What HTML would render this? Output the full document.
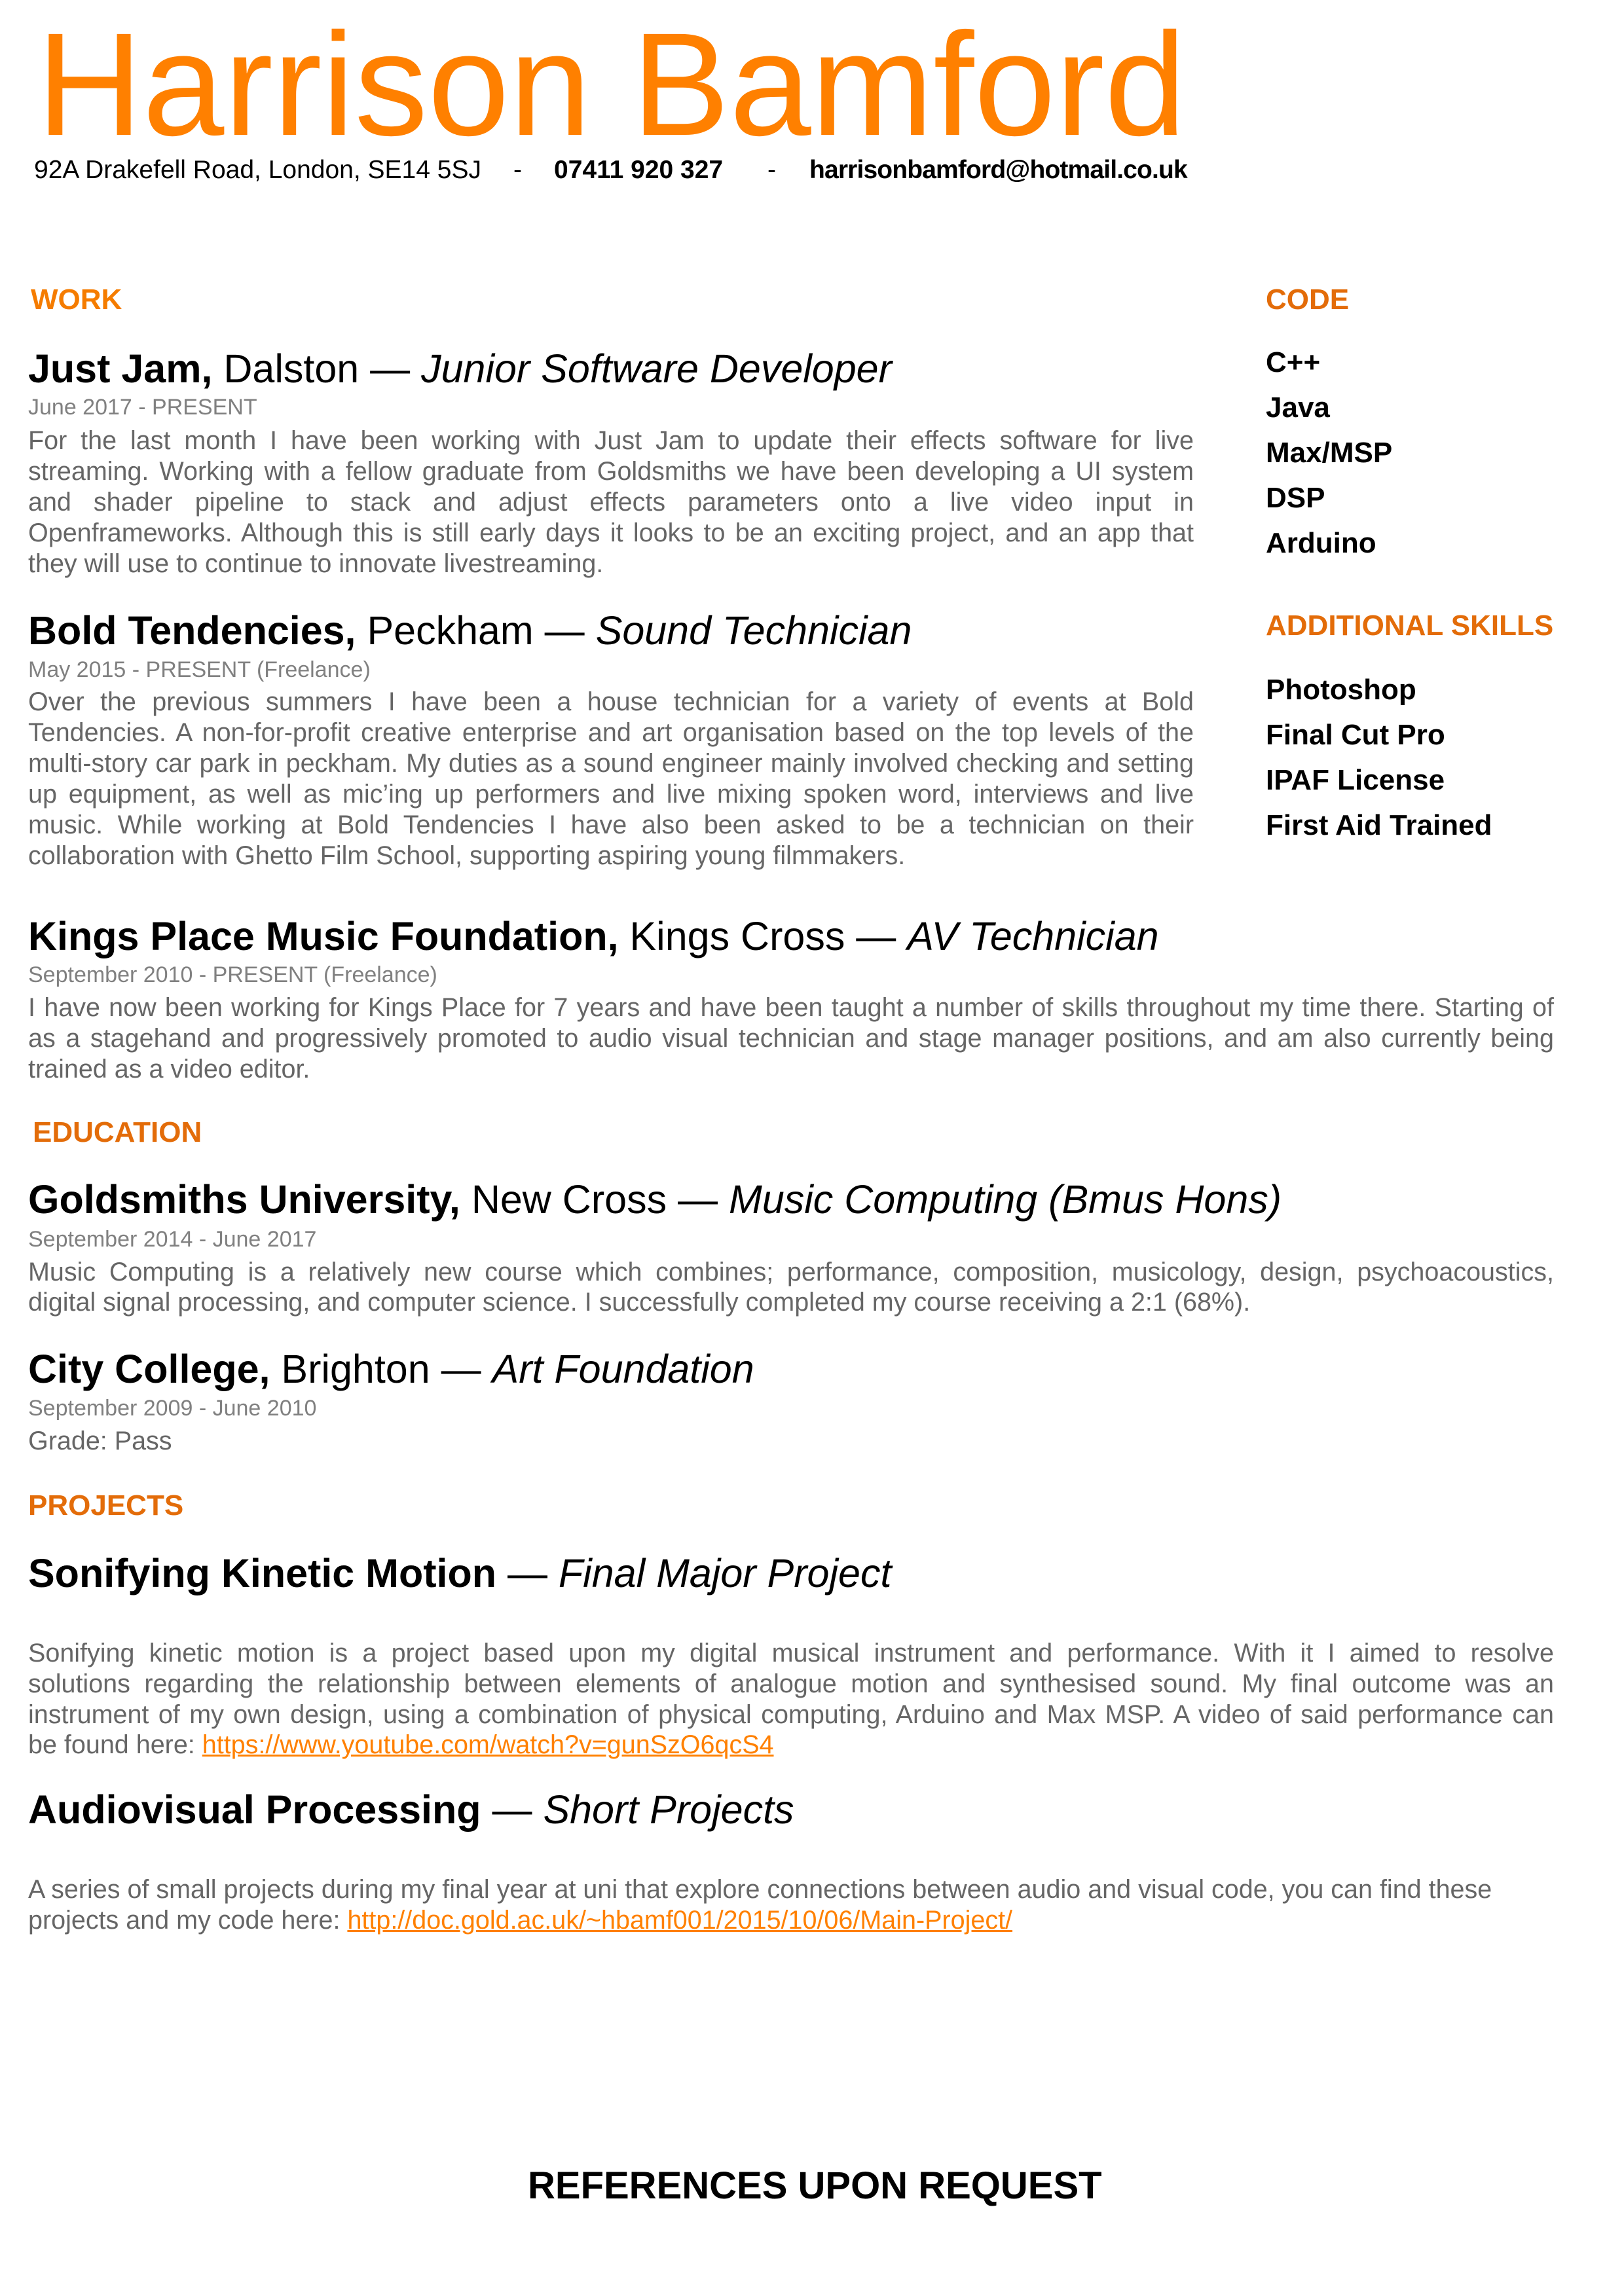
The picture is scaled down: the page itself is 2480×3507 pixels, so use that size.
<!DOCTYPE html>
<html><head><meta charset="utf-8"><style>
html,body{margin:0;padding:0;background:#fff}
body{width:2480px;height:3507px;position:relative;overflow:hidden;font-family:"Liberation Sans",Arial,sans-serif}
.l{position:absolute;line-height:1;white-space:nowrap}
.h{font-size:44px;font-weight:bold;color:#e36c09}
.t{font-size:61px;color:#000;left:43px}
.t b{font-weight:bold}
.d{font-size:34px;color:#808080;left:43px}
.p{font-size:39.5px;color:#666;left:43px}
.j{text-align:justify;text-align-last:justify}
.w1{width:1780px}.w2{width:2330px}
.s{font-size:44px;font-weight:bold;color:#000;left:1933px}
a{color:#ff8000;text-decoration:underline}
</style></head><body>
<div class="l" style="top:17px;left:56px;font-size:224px;color:#ff8000">Harrison Bamford</div>
<div class="l" style="top:240px;left:52px;font-size:39px">92A Drakefell Road, London, SE14 5SJ</div>
<div class="l" style="top:240px;left:784px;font-size:39px">-</div>
<div class="l" style="top:240px;left:846px;font-size:39px;font-weight:bold">07411 920 327</div>
<div class="l" style="top:240px;left:1172px;font-size:39px">-</div>
<div class="l" style="top:240px;left:1236px;font-size:39px;font-weight:bold;letter-spacing:-0.85px">harrisonbamford@hotmail.co.uk</div>

<div class="l h" style="top:436px;left:47px;color:#f57c00">WORK</div>
<div class="l h" style="top:436px;left:1933px">CODE</div>

<div class="l t" style="top:533px"><b>Just Jam,</b> Dalston — <i>Junior Software Developer</i></div>
<div class="l d" style="top:605px">June 2017 - PRESENT</div>
<div class="l p j w1" style="top:654px">For the last month I have been working with Just Jam to update their effects software for live</div>
<div class="l p j w1" style="top:701px">streaming. Working with a fellow graduate from Goldsmiths we have been developing a UI system</div>
<div class="l p j w1" style="top:748px">and shader pipeline to stack and adjust effects parameters onto a live video input in</div>
<div class="l p j w1" style="top:795px">Openframeworks. Although this is still early days it looks to be an exciting project, and an app that</div>
<div class="l p" style="top:842px">they will use to continue to innovate livestreaming.</div>

<div class="l t" style="top:933px"><b>Bold Tendencies,</b> Peckham — <i>Sound Technician</i></div>
<div class="l d" style="top:1006px">May 2015 - PRESENT (Freelance)</div>
<div class="l p j w1" style="top:1053px">Over the previous summers I have been a house technician for a variety of events at Bold</div>
<div class="l p j w1" style="top:1100px">Tendencies. A non-for-profit creative enterprise and art organisation based on the top levels of the</div>
<div class="l p j w1" style="top:1147px">multi-story car park in peckham. My duties as a sound engineer mainly involved checking and setting</div>
<div class="l p j w1" style="top:1194px">up equipment, as well as mic’ing up performers and live mixing  spoken word, interviews and live</div>
<div class="l p j w1" style="top:1241px">music. While working at Bold Tendencies I have also been asked to be a technician on their</div>
<div class="l p" style="top:1288px">collaboration with Ghetto Film School, supporting aspiring young filmmakers.</div>

<div class="l t" style="top:1400px"><b>Kings Place Music Foundation,</b> Kings Cross — <i>AV Technician</i></div>
<div class="l d" style="top:1472px">September 2010 - PRESENT (Freelance)</div>
<div class="l p j w2" style="top:1520px">I have now been working for Kings Place for 7 years and have been taught a number of skills throughout my time there. Starting of</div>
<div class="l p j w2" style="top:1567px">as a stagehand and progressively promoted to audio visual technician and stage manager positions, and am also currently being</div>
<div class="l p" style="top:1614px">trained as a video editor.</div>

<div class="l h" style="top:1708px;left:50px">EDUCATION</div>
<div class="l t" style="top:1802px"><b>Goldsmiths University,</b> New Cross — <i>Music Computing (Bmus Hons)</i></div>
<div class="l d" style="top:1876px">September 2014 - June 2017</div>
<div class="l p j w2" style="top:1924px">Music Computing is a relatively new course which combines; performance, composition, musicology, design, psychoacoustics,</div>
<div class="l p" style="top:1970px">digital signal processing, and computer science. I successfully completed my course receiving a 2:1 (68%).</div>

<div class="l t" style="top:2061px"><b>City College,</b> Brighton — <i>Art Foundation</i></div>
<div class="l d" style="top:2134px">September 2009 - June 2010</div>
<div class="l p" style="top:2182px">Grade: Pass</div>

<div class="l h" style="top:2278px;left:43px">PROJECTS</div>
<div class="l t" style="top:2373px"><b>Sonifying Kinetic Motion</b> — <i>Final Major Project</i></div>
<div class="l p j w2" style="top:2506px">Sonifying kinetic motion is a project based upon my digital musical instrument and performance. With it I aimed to resolve</div>
<div class="l p j w2" style="top:2553px">solutions regarding the relationship between elements of analogue motion and synthesised sound. My final outcome was an</div>
<div class="l p j w2" style="top:2600px">instrument of my own design, using a combination of physical computing, Arduino and Max MSP. A video of said performance can</div>
<div class="l p" style="top:2646px">be found here: <a>https://www.youtube.com/watch?v=gunSzO6qcS4</a></div>

<div class="l t" style="top:2734px"><b>Audiovisual Processing</b> — <i>Short Projects</i></div>
<div class="l p" style="top:2867px">A series of small projects during my final year at uni that explore connections between audio and visual code, you can find these</div>
<div class="l p" style="top:2914px">projects and my code here: <a>http://doc.gold.ac.uk/~hbamf001/2015/10/06/Main-Project/</a></div>

<div class="l s" style="top:532px">C++</div>
<div class="l s" style="top:601px">Java</div>
<div class="l s" style="top:670px">Max/MSP</div>
<div class="l s" style="top:739px">DSP</div>
<div class="l s" style="top:808px">Arduino</div>
<div class="l h" style="top:934px;left:1933px">ADDITIONAL SKILLS</div>
<div class="l s" style="top:1032px">Photoshop</div>
<div class="l s" style="top:1101px">Final Cut Pro</div>
<div class="l s" style="top:1170px">IPAF License</div>
<div class="l s" style="top:1239px">First Aid Trained</div>

<div class="l" style="top:3310px;left:806px;font-size:58px;font-weight:bold;color:#000">REFERENCES UPON REQUEST</div>
</body></html>
